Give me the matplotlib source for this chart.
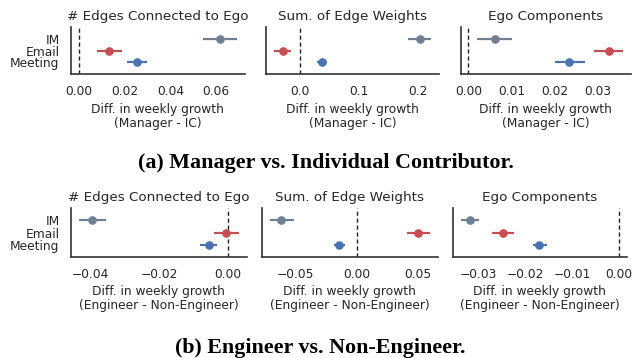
import matplotlib
matplotlib.use("Agg")
import matplotlib.pyplot as plt

# Communication channels, top to bottom on the y axis
channels = ["IM", "Email", "Meeting"]
channel_colors = ["#708090", "#c44e52", "#4c72b0"]

metrics = ["# Edges Connected to Ego", "Sum. of Edge Weights", "Ego Components"]

# (a) Manager - IC: point estimate, CI low, CI high per channel
mgr_est = [
    [0.0618, 0.0134, 0.0254],
    [0.202, -0.029, 0.037],
    [0.0061, 0.0324, 0.0233],
]
mgr_lo = [
    [0.0544, 0.0078, 0.0210],
    [0.183, -0.045, 0.028],
    [0.0020, 0.0290, 0.0200],
]
mgr_hi = [
    [0.0691, 0.0191, 0.0298],
    [0.222, -0.015, 0.045],
    [0.0100, 0.0358, 0.0269],
]
mgr_ticks = [
    [0.00, 0.02, 0.04, 0.06],
    [0.0, 0.1, 0.2],
    [0.00, 0.01, 0.02, 0.03],
]
mgr_tick_fmt = ["{:.2f}", "{:.1f}", "{:.2f}"]

# (b) Engineer - Non-Engineer
eng_est = [
    [-0.0396, -0.0004, -0.0055],
    [-0.0615, 0.050, -0.0145],
    [-0.0318, -0.0246, -0.0170],
]
eng_lo = [
    [-0.0435, -0.0041, -0.0080],
    [-0.0710, 0.041, -0.0190],
    [-0.0337, -0.0270, -0.0184],
]
eng_hi = [
    [-0.0354, 0.0032, -0.0031],
    [-0.0514, 0.0593, -0.0096],
    [-0.0298, -0.0223, -0.0154],
]
eng_ticks = [
    [-0.04, -0.02, 0.00],
    [-0.05, 0.00, 0.05],
    [-0.03, -0.02, -0.01, 0.00],
]
eng_tick_fmt = ["{:.2f}", "{:.2f}", "{:.2f}"]

TEXT = "#262626"
W, H = 633, 358


def px_axes(fig, x0, x1, y_top, y_bot):
    return fig.add_axes([x0 / W, 1 - y_bot / H, (x1 - x0) / W, (y_bot - y_top) / H])


def draw_panel(ax, title, est, lo, hi, ticks, fmt, xlabel, show_y):
    for i, (e, l, h) in enumerate(zip(est, lo, hi)):
        ax.errorbar([e], [i], xerr=[[e - l], [h - e]], fmt="o", color=channel_colors[i],
                    ecolor=channel_colors[i], elinewidth=1.6, markersize=5.2, capsize=0)
    ax.axvline(0, color="#222222", linestyle="--", linewidth=1.0, dashes=(3, 2))
    ax.set_ylim(3, -1)
    ax.set_yticks(range(len(channels)))
    ax.set_yticklabels(channels if show_y else [])
    ax.set_xticks(ticks)
    ax.set_xticklabels([fmt.format(t).replace("-", "\u2212") for t in ticks])
    ax.tick_params(length=0, labelsize=8.8, colors=TEXT, pad=8)
    ax.set_title(title, fontsize=9.7, color=TEXT, pad=5)
    ax.set_xlabel(xlabel, fontsize=8.8, color=TEXT, labelpad=3, linespacing=1.15)
    for side in ("top", "right"):
        ax.spines[side].set_visible(False)
    for side in ("left", "bottom"):
        ax.spines[side].set_color("#333333")
        ax.spines[side].set_linewidth(1.2)


fig = plt.figure(figsize=(W / 100, H / 100), dpi=100)

top_x = [(70.7, 245.0), (265.7, 439.3), (460.7, 631.0)]
bot_x = [(70.7, 246.7), (261.7, 437.7), (452.7, 627.0)]

for k in range(3):
    ax = px_axes(fig, top_x[k][0], top_x[k][1], 27.0, 74.3)
    draw_panel(ax, metrics[k], mgr_est[k], mgr_lo[k], mgr_hi[k], mgr_ticks[k], mgr_tick_fmt[k],
               "Diff. in weekly growth\n(Manager - IC)", k == 0)

for k in range(3):
    ax = px_axes(fig, bot_x[k][0], bot_x[k][1], 208.3, 256.7)
    draw_panel(ax, metrics[k], eng_est[k], eng_lo[k], eng_hi[k], eng_ticks[k], eng_tick_fmt[k],
               "Diff. in weekly growth\n(Engineer - Non-Engineer)", k == 0)

cap_font = dict(family="Liberation Serif", weight="bold", fontsize=15.8, color="black",
                ha="center", va="center")
fig.text(326 / W, 1 - 163 / H, "(a) Manager vs. Individual Contributor.", **cap_font)
fig.text(320 / W, 1 - 348 / H, "(b) Engineer vs. Non-Engineer.", **cap_font)

fig.savefig("out.png", dpi=100)
